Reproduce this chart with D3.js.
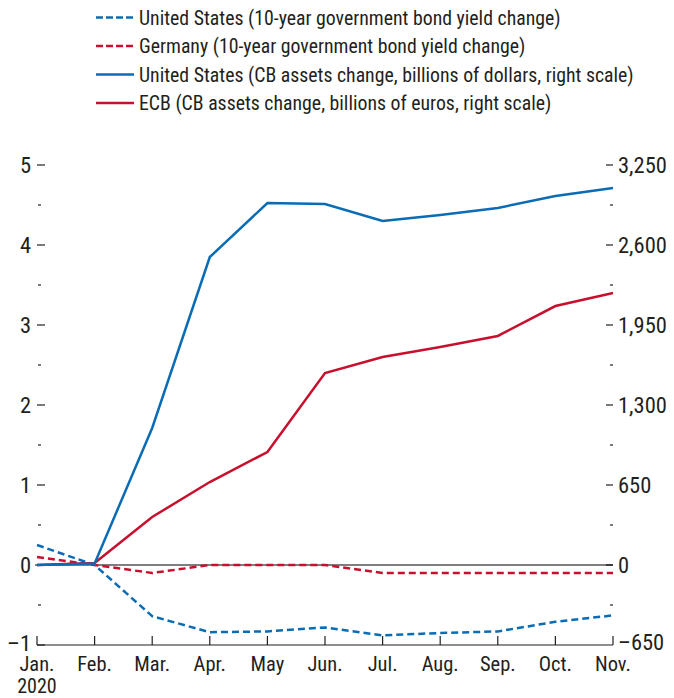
<!DOCTYPE html>
<html><head><meta charset="utf-8">
<script src="https://cdn.jsdelivr.net/npm/d3@7"></script>
<style>body{margin:0;background:#fff}svg{display:block}text{font-family:"Roboto Condensed","Liberation Sans Narrow","Arial Narrow",sans-serif;fill:#231f20}</style>
</head><body><svg id="c" width="674" height="698"></svg>
<script>
const months = ["Jan.","Feb.","Mar.","Apr.","May","Jun.","Jul.","Aug.","Sep.","Oct.","Nov."];
const usYield = [0.25,0,-0.64,-0.84,-0.83,-0.78,-0.88,-0.85,-0.83,-0.71,-0.63];
const deYield = [0.1,0,-0.1,0,0,0,-0.1,-0.1,-0.1,-0.1,-0.1];
const usAssets = [0,12,1113,2502,2941,2933,2795,2844,2901,2998,3063];
const ecbAssets = [0,16,390,674,918,1560,1690,1771,1861,2104,2210];
const leftTicks = [-1,0,1,2,3,4,5];
const rightTicks = [-650,0,650,1300,1950,2600,3250];
const legendLabels = ["United States (10-year government bond yield change)","Germany (10-year government bond yield change)","United States (CB assets change, billions of dollars, right scale)","ECB (CB assets change, billions of euros, right scale)"];

const BLUE="#0a6cb4", RED="#c8102e";
const svg=d3.select("#c");
const x=d3.scalePoint().domain(months).range([37,613]);
const yL=d3.scaleLinear().domain([-1,5]).range([645,165]);
const yR=d3.scaleLinear().domain([-650,3250]).range([645,165]);

// legend
const leg=[{c:BLUE,d:"7,3"},{c:RED,d:"7,3"},{c:BLUE,d:null},{c:RED,d:null}];
leg.forEach((l,i)=>{
  const yy=17.5+i*28.5;
  svg.append("line").attr("x1",96).attr("x2",134).attr("y1",yy).attr("y2",yy)
    .attr("stroke",l.c).attr("stroke-width",2.5).attr("stroke-dasharray",l.d);
  svg.append("text").attr("x",139).attr("y",yy+7).attr("font-size",19.8).text(legendLabels[i]);
});

// left axis ticks
const gL=svg.append("g");
leftTicks.forEach(t=>{
  gL.append("line").attr("x1",37).attr("x2",45).attr("y1",yL(t)).attr("y2",yL(t)).attr("stroke","#231f20").attr("stroke-width",1.2);
  gL.append("text").attr("x",31).attr("y",yL(t)+(t<0?6:8)).attr("text-anchor","end").attr("font-size",22.5).text(t<0?"\u2013"+Math.abs(t):t);
});
d3.range(-0.5,5,1).forEach(t=>{
  gL.append("line").attr("x1",38).attr("x2",41).attr("y1",yL(t)).attr("y2",yL(t)).attr("stroke","#231f20").attr("stroke-width",1.2);
});
// right axis ticks
const fmt=d3.format(",");
rightTicks.forEach(t=>{
  if(t>-650) svg.append("line").attr("x1",606).attr("x2",613).attr("y1",yR(t)).attr("y2",yR(t)).attr("stroke","#231f20").attr("stroke-width",1.2);
  svg.append("text").attr("x",618).attr("y",yR(t)+(t<0?5:8)).attr("font-size",22.5).text(t<0?"\u2013"+fmt(Math.abs(t)):fmt(t));
});
d3.range(-325,3250,650).forEach(t=>{
  svg.append("line").attr("x1",610).attr("x2",613).attr("y1",yR(t)).attr("y2",yR(t)).attr("stroke","#231f20").attr("stroke-width",1.2);
});

// bottom axis
svg.append("line").attr("x1",37).attr("x2",613).attr("y1",645).attr("y2",645).attr("stroke","#231f20").attr("stroke-width",1.2);
months.forEach((m,i)=>{
  svg.append("line").attr("x1",x(m)).attr("x2",x(m)).attr("y1",645).attr("y2",636).attr("stroke","#231f20").attr("stroke-width",1.2);
  svg.append("text").attr("x",x(m)).attr("y",671).attr("text-anchor","middle").attr("font-size",20.5).text(m);
});
svg.append("text").attr("x",x(months[0])).attr("y",693).attr("text-anchor","middle").attr("font-size",20).text("2020");

// zero line
svg.append("line").attr("x1",35).attr("x2",613).attr("y1",yL(0)).attr("y2",yL(0)).attr("stroke","#000").attr("stroke-width",1.2);

const lineL=d3.line().x((d,i)=>x(months[i])).y(d=>yL(d));
const lineR=d3.line().x((d,i)=>x(months[i])).y(d=>yR(d));
svg.append("path").attr("d",lineL(deYield)).attr("fill","none").attr("stroke",RED).attr("stroke-width",2.5).attr("stroke-dasharray","7,4");
svg.append("path").attr("d",lineL(usYield)).attr("fill","none").attr("stroke",BLUE).attr("stroke-width",2.5).attr("stroke-dasharray","7,4");
svg.append("path").attr("d",lineR(ecbAssets)).attr("fill","none").attr("stroke",RED).attr("stroke-width",2.5);
svg.append("path").attr("d",lineR(usAssets)).attr("fill","none").attr("stroke",BLUE).attr("stroke-width",2.5);
</script></body></html>
